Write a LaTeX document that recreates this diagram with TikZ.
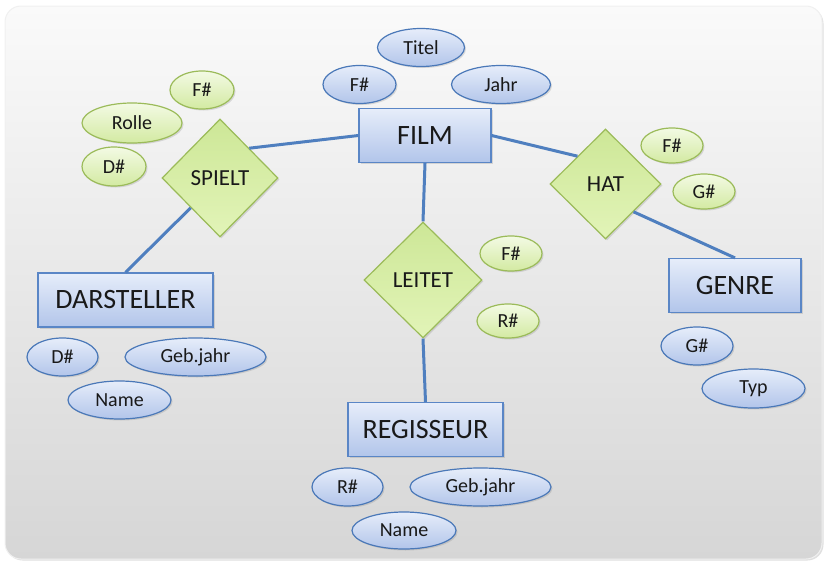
\documentclass[tikz,border=0pt]{standalone}
\usepackage{fontspec}
\setmainfont{Carlito}
\usetikzlibrary{shapes.geometric,shadows}

\definecolor{linkblue}{HTML}{4F7FBF}
\definecolor{entline}{HTML}{5A86C6}
\definecolor{enttop}{HTML}{E6EDFA}
\definecolor{entbot}{HTML}{B2C5EA}
\definecolor{attrline}{HTML}{4A78B8}
\definecolor{relline}{HTML}{9BBB59}
\definecolor{reltop}{HTML}{CDE797}
\definecolor{relbot}{HTML}{E2F4B8}
\definecolor{grtop}{HTML}{F3FAE4}
\definecolor{grbot}{HTML}{D3EAA2}
\definecolor{cardtop}{HTML}{FAFAFA}
\definecolor{cardbot}{HTML}{D6D6D6}

\begin{document}
\begin{tikzpicture}[x=1pt, y=-1pt,
        shade/.style={drop shadow={opacity=0.25, shadow xshift=1.5pt, shadow yshift=-1.5pt}},
        entity/.style={rectangle, draw=entline, line width=1.2pt, top color=enttop, bottom color=entbot,
            minimum height=54pt, inner sep=0pt, shade, text=black!90, font=\fontsize{28}{30}\selectfont},
        relation/.style={diamond, draw=relline, line width=1.2pt, top color=reltop, bottom color=relbot,
            inner sep=0pt, shade, text=black!90, font=\fontsize{23}{25}\selectfont},
        attr/.style={ellipse, draw=attrline, line width=1.2pt, top color=enttop, bottom color=entbot,
            minimum height=38pt, inner sep=0pt, shade, text=black!90, font=\fontsize{20}{22}\selectfont},
        gattr/.style={attr, draw=relline, top color=grtop, bottom color=grbot, minimum height=36pt},
        link/.style={draw=linkblue, line width=3pt}
    ]
        \useasboundingbox (0,0) rectangle (825,562);
        % Hintergrund
        \shade[rounded corners=16pt, top color=cardtop, bottom color=cardbot, draw=black!6, line width=1pt]
            (5,6) rectangle (822,559);

        % Entitaeten
        \node [entity, minimum width=132pt] (film) at (425,135.5) {FILM};
        \node [entity, minimum width=175pt] (darsteller) at (125.5,300) {DARSTELLER};
        \node [entity, minimum width=155pt] (regisseur) at (425.5,429.5) {REGISSEUR};
        \node [entity, minimum width=132pt] (genre) at (735,285.5) {GENRE};

        % Beziehungen
        \node [relation, minimum width=116pt, minimum height=118pt] (spielt) at (220,178) {SPIELT};
        \node [relation, minimum width=118pt, minimum height=116pt] (leitet) at (423,280) {LEITET};
        \node [relation, minimum width=111pt, minimum height=110pt] (hat) at (605.5,184) {HAT};

        % Attribute FILM
        \node [attr, minimum width=87pt] (titel) at (421,47.5) {Titel};
        \node [attr, minimum width=73pt] (fnr) at (359.5,84.5) {F\#};
        \node [attr, minimum width=99pt] (jahr) at (501,84.5) {Jahr};

        % Attribute SPIELT
        \node [gattr, minimum width=64pt, minimum height=38pt] (sfnr) at (202,90) {F\#};
        \node [gattr, minimum width=100pt, minimum height=40pt] (rolle) at (132,123) {Rolle};
        \node [gattr, minimum width=64pt, minimum height=39pt] (sdnr) at (114,166.5) {D\#};

        % Attribute DARSTELLER
        \node [attr, minimum width=71pt] (dnr) at (62.5,357) {D\#};
        \node [attr, minimum width=141pt] (dgeb) at (195.5,357) {Geb.jahr};
        \node [attr, minimum width=103pt] (dname) at (119.5,400) {Name};

        % Attribute LEITET
        \node [gattr, minimum width=62pt, minimum height=35pt] (lfnr) at (511,253.5) {F\#};
        \node [gattr, minimum width=62pt, minimum height=34pt] (lrnr) at (508,321) {R\#};

        % Attribute REGISSEUR
        \node [attr, minimum width=71pt] (rnr) at (347.5,487) {R\#};
        \node [attr, minimum width=141pt] (rgeb) at (480.5,487) {Geb.jahr};
        \node [attr, minimum width=104pt, minimum height=37pt] (rname) at (404,530.5) {Name};

        % Attribute HAT
        \node [gattr, minimum width=62pt, minimum height=35pt] (hfnr) at (672,145.5) {F\#};
        \node [gattr, minimum width=62pt, minimum height=35pt] (hgnr) at (704,191.5) {G\#};

        % Attribute GENRE
        \node [attr, minimum width=72pt] (gnr) at (697,346) {G\#};
        \node [attr, minimum width=103pt, minimum height=39pt] (typ) at (753.5,388.5) {Typ};

        % Verbindungen
        \draw [link] (film.west) -- (spielt.north east);
        \draw [link] (spielt.south west) -- (darsteller.north);
        \draw [link] (film.south) -- (leitet.north);
        \draw [link] (leitet.south) -- (regisseur.north);
        \draw [link] (film.east) -- (hat.north west);
        \draw [link] (hat.south east) -- (genre.north);
    \end{tikzpicture}
\end{document}
